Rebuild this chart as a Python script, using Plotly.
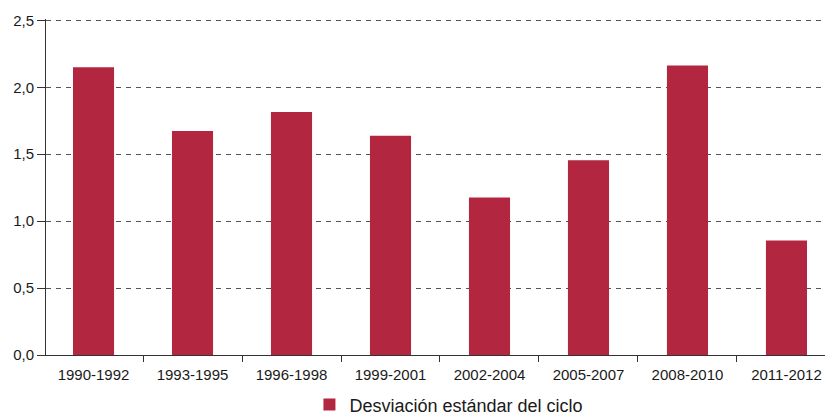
import plotly.graph_objects as go

periods = ["1990-1992", "1993-1995", "1996-1998", "1999-2001",
           "2002-2004", "2005-2007", "2008-2010", "2011-2012"]
desviacion = [2.15, 1.674, 1.816, 1.637, 1.177, 1.455, 2.163, 0.855]

fig = go.Figure()
fig.add_trace(go.Bar(
    x=periods, y=desviacion,
    name="Desviación estándar del ciclo",
    marker=dict(color="#b32640", line=dict(width=0)),
    width=0.415,
))

# page body has an 8px margin, so the figure is sized to fit the window
fig.update_layout(
    width=825, height=407,
    margin=dict(l=38, r=0, t=11, b=60),
    plot_bgcolor="white", paper_bgcolor="white",
    font=dict(family="Liberation Sans, Arial", size=15, color="#1a1a1a"),
    separators=",.",
    showlegend=True,
    legend=dict(orientation="h", x=0.512, xanchor="center",
                yref="container", y=0.025, yanchor="middle",
                font=dict(size=18)),
)
fig.update_yaxes(
    range=[0, 2.51], tickvals=[0, 0.5, 1.0, 1.5, 2.0, 2.5], tickformat=".1f",
    showgrid=True, gridcolor="#555", griddash="5px,5px", gridwidth=1,
    showline=True, linecolor="#333", linewidth=1,
    ticks="outside", ticklen=8, tickcolor="#333",
    zeroline=False, automargin=False,
)
fig.update_xaxes(
    range=[-0.48, 7.47],
    showline=True, linecolor="#333", linewidth=1,
    ticks="outside", ticklen=6, tickcolor="#333", tickson="boundaries",
    ticklabelstandoff=6,
    showgrid=False, automargin=False,
)

fig.write_html("out.html")
